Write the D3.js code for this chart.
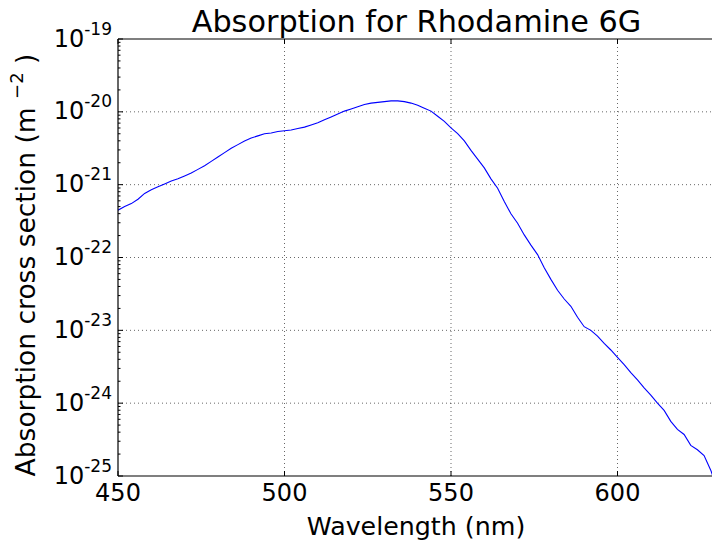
<!DOCTYPE html>
<html>
<head>
<meta charset="utf-8">
<script src="https://cdn.jsdelivr.net/npm/d3@7"></script>
<style>
  body { margin: 0; background: #fff; }
  svg { display: block; font-family: "DejaVu Sans", sans-serif; }
</style>
</head>
<body>
<svg id="chart" width="712" height="542"></svg>
<script>
// --- data (wavelength in nm, log10 of cross section in m^-2) ---
var wavelength = [450, 452, 454, 456, 458, 460, 462, 464, 466, 468, 470, 472, 474, 476, 478,
  480, 482, 484, 486, 488, 490, 492, 494, 496, 498, 500, 502, 504, 506, 508, 510, 512, 514,
  516, 518, 520, 522, 524, 526, 528, 530, 532, 534, 536, 538, 540, 542, 544, 546, 548, 550,
  552, 554, 556, 558, 560, 562, 564, 566, 568, 570, 572, 574, 576, 578, 580, 582, 584, 586,
  588, 590, 592, 594, 596, 598, 600, 602, 604, 606, 608, 610, 612, 614, 616, 618, 620, 622,
  624, 626, 628, 629];
var logSigma = [-21.35, -21.30, -21.26, -21.20, -21.12, -21.07, -21.03, -20.99, -20.95, -20.92,
  -20.88, -20.84, -20.79, -20.74, -20.68, -20.62, -20.56, -20.50, -20.45, -20.40, -20.36,
  -20.33, -20.30, -20.29, -20.27, -20.26, -20.25, -20.23, -20.21, -20.18, -20.15, -20.11,
  -20.07, -20.03, -19.99, -19.96, -19.93, -19.90, -19.88, -19.87, -19.86, -19.85, -19.85,
  -19.86, -19.88, -19.91, -19.95, -19.99, -20.06, -20.13, -20.22, -20.30, -20.40, -20.53,
  -20.65, -20.77, -20.92, -21.05, -21.23, -21.40, -21.53, -21.69, -21.83, -21.96, -22.14,
  -22.30, -22.45, -22.57, -22.67, -22.82, -22.95, -23.00, -23.08, -23.18, -23.27, -23.37,
  -23.47, -23.58, -23.68, -23.79, -23.89, -24.00, -24.10, -24.25, -24.36, -24.43, -24.58,
  -24.64, -24.72, -24.92, -25.05];
var xTicks = [450, 500, 550, 600];
var yExponents = [-25, -24, -23, -22, -21, -20, -19];

var titleText = "Absorption for Rhodamine 6G";
var xLabelText = "Wavelength (nm)";

// --- layout ---
var svg = d3.select("#chart");
var plotL = 118, plotT = 39, plotB = 476, plotR = 717.4;

var x = d3.scaleLinear().domain([450, 630]).range([plotL, plotR]);
var y = d3.scaleLog().domain([1e-25, 1e-19]).range([plotB, plotT]);

var data = wavelength.map(function(w, i) { return { w: w, v: Math.pow(10, logSigma[i]) }; });

// grid (dotted, classic style)
var grid = svg.append("g").attr("stroke", "#000").attr("stroke-width", 0.6)
  .attr("stroke-dasharray", "1,3");
xTicks.forEach(function(t) {
  if (t === 450) return;
  grid.append("line").attr("x1", x(t)).attr("x2", x(t)).attr("y1", plotT).attr("y2", plotB);
});
yExponents.forEach(function(e) {
  if (e === -25 || e === -19) return;
  var p = y(Math.pow(10, e));
  grid.append("line").attr("x1", plotL).attr("x2", plotR).attr("y1", p).attr("y2", p);
});

// curve
svg.append("clipPath").attr("id", "plotclip").append("rect")
  .attr("x", plotL).attr("y", plotT).attr("width", plotR - plotL).attr("height", plotB - plotT);
svg.append("path")
  .datum(data)
  .attr("clip-path", "url(#plotclip)")
  .attr("fill", "none")
  .attr("stroke", "#0000ff")
  .attr("stroke-width", 1.1)
  .attr("d", d3.line().x(function(d) { return x(d.w); }).y(function(d) { return y(d.v); }));

// ticks, pointing inward
var ticks = svg.append("g").attr("stroke", "#000").attr("stroke-width", 1);
xTicks.forEach(function(t) {
  ticks.append("line").attr("x1", x(t)).attr("x2", x(t)).attr("y1", plotB).attr("y2", plotB - 5);
  ticks.append("line").attr("x1", x(t)).attr("x2", x(t)).attr("y1", plotT).attr("y2", plotT + 5);
});
yExponents.forEach(function(e) {
  var p = y(Math.pow(10, e));
  ticks.append("line").attr("x1", plotL).attr("x2", plotL + 5).attr("y1", p).attr("y2", p);
  if (e < -19) {
    for (var k = 2; k <= 9; k++) {
      var q = y(k * Math.pow(10, e));
      ticks.append("line").attr("x1", plotL).attr("x2", plotL + 2.5).attr("y1", q).attr("y2", q);
    }
  }
});

// spines
var spines = svg.append("g").attr("stroke", "#000").attr("stroke-width", 1.2).attr("fill", "none");
spines.append("line").attr("x1", plotL).attr("x2", plotL).attr("y1", plotT).attr("y2", plotB);
spines.append("line").attr("x1", plotL).attr("x2", plotR).attr("y1", plotT).attr("y2", plotT);
spines.append("line").attr("x1", plotL).attr("x2", plotR).attr("y1", plotB).attr("y2", plotB);

// tick labels
xTicks.forEach(function(t) {
  svg.append("text").attr("x", x(t)).attr("y", plotB + 25)
    .attr("text-anchor", "middle").attr("font-size", 24).text(t);
});
yExponents.forEach(function(e) {
  var p = y(Math.pow(10, e));
  var txt = svg.append("text").attr("x", 112).attr("y", p + 7.5).attr("text-anchor", "end")
    .attr("font-size", 24);
  txt.append("tspan").text("10");
  txt.append("tspan").attr("font-size", 17).attr("dy", -12).text(String(e));
});

// title and axis labels
svg.append("text").attr("x", 416.5).attr("y", 32).attr("text-anchor", "middle")
  .attr("font-size", 30.3).text(titleText);
svg.append("text").attr("x", 416).attr("y", 535).attr("text-anchor", "middle")
  .attr("font-size", 25.3).text(xLabelText);

var yl = svg.append("text").attr("transform", "translate(35,265) rotate(-90)")
  .attr("text-anchor", "middle").attr("font-size", 26.5);
yl.append("tspan").text("Absorption cross section (m ");
yl.append("tspan").attr("font-size", 18).attr("dy", -12).text("\u22122");
yl.append("tspan").attr("dy", 12).text(" )");
</script>
</body>
</html>
